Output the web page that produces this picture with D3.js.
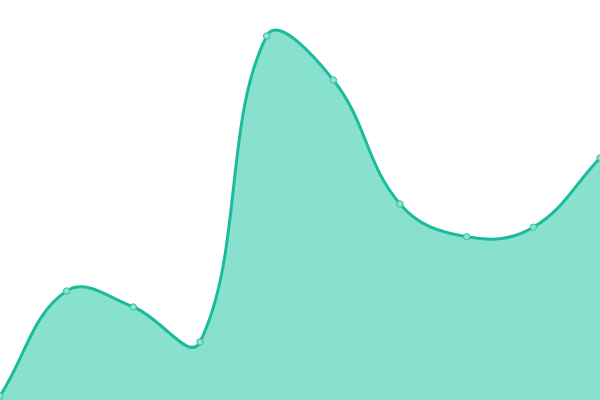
<!DOCTYPE html>
<html><head><meta charset="utf-8">
<script src="https://cdn.jsdelivr.net/npm/d3@7/dist/d3.min.js"></script>
<style>html,body{margin:0;padding:0;background:#fff;overflow:hidden}</style>
</head><body><svg id="c" width="600" height="400"></svg>
<script>
const categories = [0,1,2,3,4,5,6,7,8,9];
const values = [1, 27.25, 23.25, 14.5, 91, 80, 49, 40.8, 43.2, 60.5];

const W = 600, H = 400, TENSION = 0.4;
const svg = d3.select("#c");
const x = d3.scaleLinear().domain([0, categories.length - 1]).range([0, W]);
const y = d3.scaleLinear().domain([0, 100]).range([H, 0]);
const pts = categories.map((c, i) => ({x: x(c), y: y(values[i])}));

// distance-weighted bezier spline (tension 0.4), control points capped to chart area
const clampX = v => Math.max(0, Math.min(W, v));
const clampY = v => Math.max(0, Math.min(H, v));
const ctrl = pts.map((cur, i) => {
  const prev = pts[i - 1] || cur, next = pts[i + 1] || cur;
  const d01 = Math.hypot(cur.x - prev.x, cur.y - prev.y);
  const d12 = Math.hypot(next.x - cur.x, next.y - cur.y);
  let s01 = d01 / (d01 + d12), s12 = d12 / (d01 + d12);
  if (isNaN(s01)) s01 = 0; if (isNaN(s12)) s12 = 0;
  const fa = TENSION * s01, fb = TENSION * s12;
  return {
    px: clampX(cur.x - fa * (next.x - prev.x)), py: clampY(cur.y - fa * (next.y - prev.y)),
    nx: clampX(cur.x + fb * (next.x - prev.x)), ny: clampY(cur.y + fb * (next.y - prev.y))
  };
});
function linePath(p) {
  p.moveTo(pts[0].x, pts[0].y);
  for (let i = 1; i < pts.length; i++) {
    p.bezierCurveTo(ctrl[i-1].nx, ctrl[i-1].ny, ctrl[i].px, ctrl[i].py, pts[i].x, pts[i].y);
  }
  return p;
}
const ap = linePath(d3.path());
ap.lineTo(pts[pts.length-1].x, y(0)); ap.lineTo(pts[0].x, y(0)); ap.closePath();

svg.append("path").attr("fill", "#88e0cf").attr("d", ap.toString());
svg.append("path").attr("fill", "none").attr("stroke", "#1abc9c").attr("stroke-width", 3)
  .attr("d", linePath(d3.path()).toString());
svg.selectAll("circle").data(pts).enter().append("circle")
  .attr("cx", d => d.x).attr("cy", d => d.y).attr("r", 3.2)
  .attr("fill", "#8fe2d2").attr("stroke", "#2ebfa0").attr("stroke-width", 1);
</script></body></html>
